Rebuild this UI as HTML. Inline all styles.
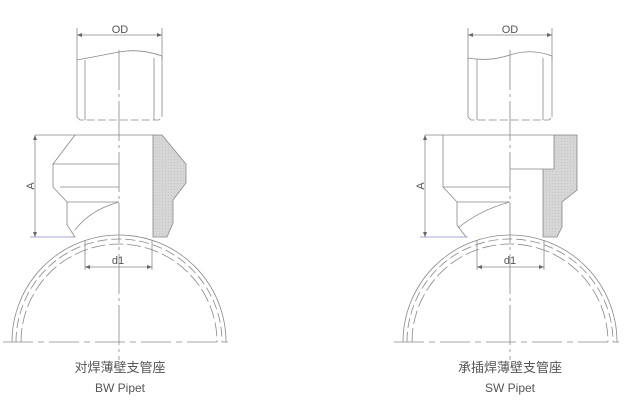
<!DOCTYPE html>
<html><head><meta charset="utf-8"><style>
html,body{margin:0;padding:0;background:#fff;width:631px;height:407px;overflow:hidden}
svg{display:block}
text{font-family:"Liberation Sans","Noto Sans CJK SC",sans-serif;fill:#555}
</style></head><body>
<svg width="631" height="407" viewBox="0 0 631 407">
<defs>
<pattern id="h" width="3" height="3" patternUnits="userSpaceOnUse"><rect width="3" height="3" fill="#d6d6d6"/><rect width="1" height="1" fill="#c6c6c6"/></pattern>
</defs>
<g stroke="#888" stroke-width="0.8" fill="none">
<!-- LEFT -->
<line x1="77" y1="35" x2="162" y2="35"/><line x1="77" y1="28" x2="77" y2="60"/><line x1="162" y1="28" x2="162" y2="60"/>
<path d="M77 60 Q98 56 119 52 Q140 48 162 56"/>
<line x1="77" y1="60" x2="77" y2="117"/><line x1="162" y1="56" x2="162" y2="117"/>
<line x1="85" y1="60" x2="85" y2="120"/><line x1="154" y1="58" x2="154" y2="120"/>
<path d="M77 117 L80 120 L159 120 L162 117" stroke-dasharray="8 3"/>
<line x1="119" y1="50" x2="119" y2="360" stroke-dasharray="40 4 3 4"/>
<path d="M153 135 L162 135 L186 164 L186 183 L173 200 L173 223 L167 237 L153 237 Z" fill="url(#h)"/>
<path d="M35 135 L75 135 L53 164 L53 187 L67 202 L67 225 L75 237 L70 237 M75 135 L153 135 M53 164 L119 164 M60 187 L119 187 M67 202 L119 202 M119 202 Q90 210 75 230"/>
<line x1="35" y1="135" x2="35" y2="237"/><line x1="30" y1="237" x2="70" y2="237" stroke="#88d"/>
<line x1="85" y1="240" x2="85" y2="270"/><line x1="152" y1="240" x2="152" y2="270"/><line x1="85" y1="267" x2="152" y2="267"/>
<path d="M12 342 A107 107 0 0 1 226 342"/>
<path d="M16 342 A103 103 0 0 1 222 342" stroke-dasharray="10 4"/>
<path d="M21 342 A98 98 0 0 1 217 342" stroke-dasharray="14 4"/>
<line x1="3" y1="342" x2="232" y2="342" stroke-dasharray="30 5 6 5"/>
<!-- RIGHT -->
<line x1="468" y1="35" x2="552" y2="35"/><line x1="468" y1="28" x2="468" y2="60"/><line x1="552" y1="28" x2="552" y2="60"/>
<path d="M468 58 Q489 62 510 55 Q531 48 552 56"/>
<line x1="468" y1="58" x2="468" y2="117"/><line x1="552" y1="56" x2="552" y2="117"/>
<line x1="477" y1="60" x2="477" y2="120"/><line x1="543" y1="58" x2="543" y2="120"/>
<path d="M468 117 L471 120 L549 120 L552 117" stroke-dasharray="8 3"/>
<line x1="510" y1="50" x2="510" y2="360" stroke-dasharray="40 4 3 4"/>
<path d="M554 135 L577 135 L577 190 L562 202 L562 227 L557 237 L543 237 L543 169 L554 169 Z" fill="url(#h)"/>
<path d="M425 135 L554 135 M443 135 L443 187 L457 202 L457 225 L466 237 M443 187 L510 187 M457 202 L510 202 M510 169 L543 169 M510 202 Q480 210 458 228"/>
<line x1="425" y1="135" x2="425" y2="237"/><line x1="420" y1="237" x2="468" y2="237" stroke="#88d"/>
<line x1="477" y1="240" x2="477" y2="270"/><line x1="544" y1="240" x2="544" y2="270"/><line x1="477" y1="267" x2="544" y2="267"/>
<path d="M403 342 A107 107 0 0 1 617 342"/>
<path d="M407 342 A103 103 0 0 1 613 342" stroke-dasharray="10 4"/>
<path d="M412 342 A98 98 0 0 1 608 342" stroke-dasharray="14 4"/>
<line x1="394" y1="342" x2="623" y2="342" stroke-dasharray="30 5 6 5"/>
</g>
<g fill="#666" stroke="none">
<path d="M77 35 l5 -2 v4z M162 35 l-5 -2 v4z M35 135 l-2 5 h4z M35 237 l-2 -5 h4z M85 267 l5 -2 v4z M152 267 l-5 -2 v4z"/>
<path d="M468 35 l5 -2 v4z M552 35 l-5 -2 v4z M425 135 l-2 5 h4z M425 237 l-2 -5 h4z M477 267 l5 -2 v4z M544 267 l-5 -2 v4z"/>
</g>
<text x="120" y="33" font-size="11" text-anchor="middle">OD</text>
<text x="510" y="33" font-size="11" text-anchor="middle">OD</text>
<text x="118" y="264" font-size="11" text-anchor="middle">d1</text>
<text x="510" y="264" font-size="11" text-anchor="middle">d1</text>
<text transform="translate(34,186) rotate(-90)" font-size="11" text-anchor="middle">A</text>
<text transform="translate(424,186) rotate(-90)" font-size="11" text-anchor="middle">A</text>
<text x="120" y="372" font-size="13" text-anchor="middle">对焊薄壁支管座</text>
<text x="120" y="392" font-size="12" text-anchor="middle">BW Pipet</text>
<text x="510" y="372" font-size="13" text-anchor="middle">承插焊薄壁支管座</text>
<text x="510" y="392" font-size="12" text-anchor="middle">SW Pipet</text>
</svg>
</body></html>
